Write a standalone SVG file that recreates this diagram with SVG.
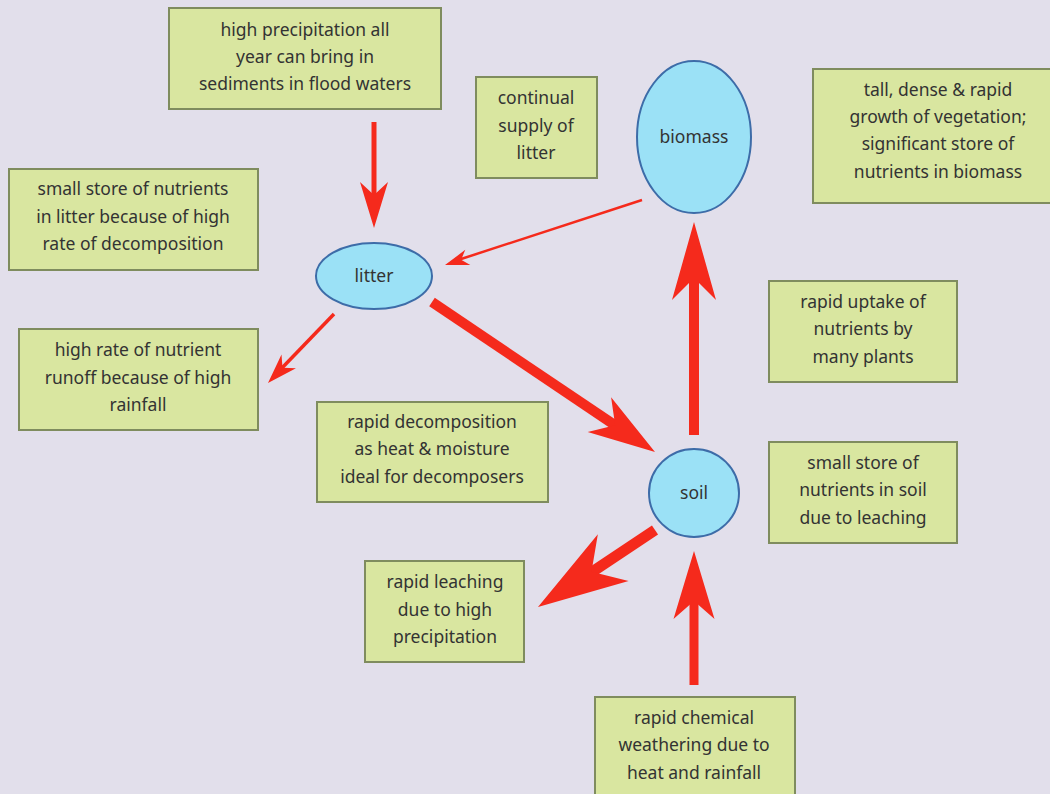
<svg xmlns="http://www.w3.org/2000/svg" width="1050" height="794" viewBox="0 0 1050 794">
<style>
.box{fill:#d9e6a0;stroke:#7f8c5e;stroke-width:2}
.ell{fill:#9be1f6;stroke:#3d6ca8;stroke-width:2}
text{font-family:"Noto Sans","Open Sans",sans-serif;font-size:17.5px;fill:#333;text-anchor:middle}
.sh{stroke:#f52a1c;fill:none;stroke-linecap:butt}
.hd{fill:#f52a1c}
</style>
<rect width="1050" height="794" fill="#e2dfeb"/>
<g id="connectors">
<line class="sh" x1="374" y1="122" x2="374" y2="205" stroke-width="5"/>
<polygon class="hd" points="0,0 -46,-14 -33,0 -46,14" transform="translate(374,228) rotate(90)"/>
<line class="sh" x1="642" y1="200" x2="458" y2="260" stroke-width="2.5"/>
<polygon class="hd" points="0,0 -24,-8 -17,0 -24,8" transform="translate(445,265) rotate(161.7)"/>
<line class="sh" x1="334" y1="314" x2="281" y2="369" stroke-width="3.5"/>
<polygon class="hd" points="0,0 -30,-10 -21,0 -30,10" transform="translate(268,383) rotate(133.7)"/>
<line class="sh" x1="432" y1="302" x2="625" y2="432" stroke-width="10"/>
<polygon class="hd" points="0,0 -67,-21 -48,0 -67,21" transform="translate(655,452) rotate(33.9)"/>
<line class="sh" x1="694" y1="435" x2="694" y2="265" stroke-width="10"/>
<polygon class="hd" points="0,0 -78,-22 -56,0 -78,22" transform="translate(694,222) rotate(-90)"/>
<line class="sh" x1="655" y1="530" x2="580" y2="580" stroke-width="11"/>
<polygon class="hd" points="0,0 -90,-28 -64,0 -90,28" transform="translate(538,607) rotate(146.7)"/>
<line class="sh" x1="694" y1="685" x2="694" y2="590" stroke-width="9"/>
<polygon class="hd" points="0,0 -68,-20.5 -50,0 -68,20.5" transform="translate(694,551) rotate(-90)"/>
</g>
<g id="biomass"><ellipse class="ell" cx="694" cy="137" rx="57" ry="76"/><text x="694" y="143">biomass</text></g>
<g id="litter"><ellipse class="ell" cx="374" cy="276" rx="58" ry="33"/><text x="374" y="282">litter</text></g>
<g id="soil"><ellipse class="ell" cx="694" cy="493" rx="45" ry="44"/><text x="694" y="499">soil</text></g>
<g id="box-precip"><rect class="box" x="169" y="8" width="272" height="101"/><text x="305" y="36">high precipitation all</text><text x="305" y="63">year can bring in</text><text x="305" y="90">sediments in flood waters</text></g>
<g id="box-supply"><rect class="box" x="476" y="77" width="121" height="101"/><text x="536" y="104">continual</text><text x="536" y="132">supply of</text><text x="536" y="159">litter</text></g>
<g id="box-tall"><rect class="box" x="813" y="69" width="245" height="134"/><text x="938" y="96">tall, dense &amp; rapid</text><text x="938" y="123">growth of vegetation;</text><text x="938" y="150">significant store of</text><text x="938" y="178">nutrients in biomass</text></g>
<g id="box-littstore"><rect class="box" x="9" y="169" width="249" height="101"/><text x="133" y="195">small store of nutrients</text><text x="133" y="223">in litter because of high</text><text x="133" y="250">rate of decomposition</text></g>
<g id="box-runoff"><rect class="box" x="19" y="329" width="239" height="101"/><text x="138" y="356">high rate of nutrient</text><text x="138" y="384">runoff because of high</text><text x="138" y="411">rainfall</text></g>
<g id="box-uptake"><rect class="box" x="769" y="281" width="188" height="101"/><text x="863" y="308">rapid uptake of</text><text x="863" y="335">nutrients by</text><text x="863" y="363">many plants</text></g>
<g id="box-decomp"><rect class="box" x="317" y="402" width="231" height="100"/><text x="432" y="428">rapid decomposition</text><text x="432" y="455">as heat &amp; moisture</text><text x="432" y="483">ideal for decomposers</text></g>
<g id="box-soilstore"><rect class="box" x="769" y="442" width="188" height="101"/><text x="863" y="469">small store of</text><text x="863" y="496">nutrients in soil</text><text x="863" y="524">due to leaching</text></g>
<g id="box-leach"><rect class="box" x="365" y="561" width="159" height="101"/><text x="445" y="588">rapid leaching</text><text x="445" y="616">due to high</text><text x="445" y="643">precipitation</text></g>
<g id="box-weather"><rect class="box" x="595" y="697" width="200" height="105"/><text x="694" y="724">rapid chemical</text><text x="694" y="751">weathering due to</text><text x="694" y="779">heat and rainfall</text></g>
</svg>
